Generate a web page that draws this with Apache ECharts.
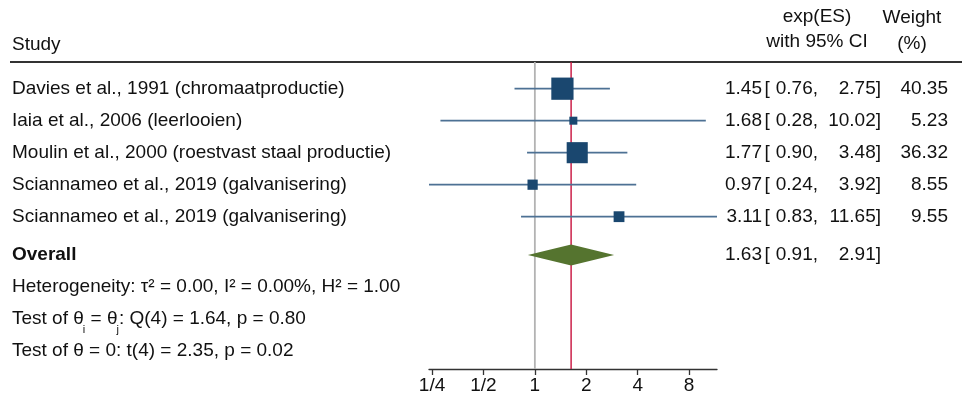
<!DOCTYPE html>
<html>
<head>
<meta charset="utf-8">
<script src="https://cdn.jsdelivr.net/npm/echarts@6/dist/echarts.min.js"></script>
<style>
  html, body { margin: 0; padding: 0; background: #fff; }
  #main { width: 962px; height: 398px; }
</style>
</head>
<body>
<div id="main"></div>
<script>
  // data
  const studies = [
    'Davies et al., 1991 (chromaatproductie)',
    'Iaia et al., 2006 (leerlooien)',
    'Moulin et al., 2000 (roestvast staal productie)',
    'Sciannameo et al., 2019 (galvanisering)',
    'Sciannameo et al., 2019 (galvanisering)'
  ]
  const es = [1.45, 1.68, 1.77, 0.97, 3.11]
  const lower = [0.76, 0.28, 0.90, 0.24, 0.83]
  const upper = [2.75, 10.02, 3.48, 3.92, 11.65]
  const weights = [40.35, 5.23, 36.32, 8.55, 9.55]
  const overallEs = 1.63
  const overallLower = 0.91
  const overallUpper = 2.91
  const tickValues = [0.25, 0.5, 1, 2, 4, 8]
  const tickLabels = ['1/4', '1/2', '1', '2', '4', '8']
  const statLines = [
    [{ t: 'Heterogeneity: τ² = 0.00, I² = 0.00%, H² = 1.00' }],
    [{ t: 'Test of θ' }, { t: 'i', sub: true }, { t: ' = θ' }, { t: 'j', sub: true }, { t: ': Q(4) = 1.64, p = 0.80' }],
    [{ t: 'Test of θ = 0: t(4) = 2.35, p = 0.02' }]
  ]

  const rows = [1, 2, 3, 4, 5]
  const overallRow = 6.2
  const statRows = [7.2, 8.2, 9.2]

  const FONT = '"Liberation Sans", Arial, sans-serif'
  const FS = 19
  const TXT = '#111'

  const log2 = v => Math.log2(v)
  const ticks = tickValues.map(log2)

  // reference lines: no effect (gray) and overall effect (red)
  const refLineStyles = [
    { stroke: '#b3b3b3', lineWidth: 1.8 },
    { stroke: '#c8103c', lineWidth: 1.4 }
  ]

  const chart = echarts.init(document.getElementById('main'))

  chart.setOption({
    animation: false,
    grid: { left: 429, top: 62, width: 288, height: 307 },
    xAxis: {
      type: 'value',
      min: log2(Math.min(...lower)),
      max: log2(Math.max(...upper)),
      splitLine: { show: false },
      axisLine: { show: true, lineStyle: { color: '#333', width: 1.3 } },
      axisTick: { show: true, customValues: ticks, length: 6, lineStyle: { color: '#333', width: 1.3 } },
      axisLabel: {
        customValues: ticks,
        margin: 7,
        color: TXT,
        fontFamily: FONT,
        fontSize: FS,
        formatter: v => {
          const i = ticks.findIndex(t => Math.abs(t - v) < 1e-6)
          return i >= 0 ? tickLabels[i] : ''
        }
      }
    },
    yAxis: { type: 'value', inverse: true, min: 0.166, max: 9.76, show: false },
    series: [
      {
        type: 'custom',
        z: 1,
        clip: false,
        encode: { x: 0 },
        data: [[0], [log2(overallEs)]],
        renderItem: (params, api) => {
          const x = api.coord([api.value(0), 1])[0]
          const cs = params.coordSys
          return {
            type: 'line',
            shape: { x1: x, y1: cs.y, x2: x, y2: cs.y + cs.height },
            style: refLineStyles[params.dataIndex]
          }
        }
      },
      {
        // study CIs and weighted boxes
        type: 'custom',
        z: 3,
        clip: false,
        encode: { x: [0, 1, 2], y: 3 },
        data: es.map((v, i) => [log2(lower[i]), log2(upper[i]), log2(v), rows[i], weights[i]]),
        renderItem: (params, api) => {
          const a = api.coord([api.value(0), api.value(3)])
          const b = api.coord([api.value(1), api.value(3)])
          const c = api.coord([api.value(2), api.value(3)])
          const s = 3.5 * Math.sqrt(api.value(4))
          return {
            type: 'group',
            children: [
              { type: 'line', shape: { x1: a[0], y1: a[1], x2: b[0], y2: b[1] }, style: { stroke: '#4d7194', lineWidth: 1.7 } },
              { type: 'rect', shape: { x: c[0] - s / 2, y: c[1] - s / 2, width: s, height: s }, style: { fill: '#1a476f' } }
            ]
          }
        }
      },
      {
        // overall diamond
        type: 'custom',
        z: 3,
        clip: false,
        encode: { x: [0, 1, 2], y: 3 },
        data: [[log2(overallLower), log2(overallUpper), log2(overallEs), overallRow]],
        renderItem: (params, api) => {
          const a = api.coord([api.value(0), api.value(3)])
          const b = api.coord([api.value(1), api.value(3)])
          const c = api.coord([api.value(2), api.value(3)])
          const h = 10.5
          return {
            type: 'polygon',
            shape: { points: [[a[0], a[1]], [c[0], c[1] - h], [b[0], b[1]], [c[0], c[1] + h]] },
            style: { fill: '#55742f' }
          }
        }
      }
    ]
  })

  // text columns
  const ctx = document.createElement('canvas').getContext('2d')
  const textWidth = (s, size) => { ctx.font = size + 'px ' + FONT; return ctx.measureText(s).width }
  const rowY = r => chart.convertToPixel({ yAxisIndex: 0 }, r)

  const txt = (x, y, s, align, extra) => ({
    type: 'text',
    x: x,
    y: y,
    silent: true,
    style: Object.assign({
      text: s, fill: TXT, font: FS + 'px ' + FONT, textAlign: align || 'left', textVerticalAlign: 'middle'
    }, extra || {})
  })

  const ciCols = (y, v, lo, hi) => [
    txt(762, y, v.toFixed(2), 'right'),
    txt(764.5, y, '[', 'left'),
    txt(818, y, lo.toFixed(2) + ',', 'right'),
    txt(881, y, hi.toFixed(2) + ']', 'right')
  ]

  const g = [
    { type: 'line', silent: true, shape: { x1: 10, y1: 62, x2: 962, y2: 62 }, style: { stroke: '#333', lineWidth: 2 } },
    txt(12, 45, 'Study'),
    txt(817, 17, 'exp(ES)', 'center'),
    txt(817, 42, 'with 95% CI', 'center'),
    txt(912, 18, 'Weight', 'center'),
    txt(912, 44, '(%)', 'center')
  ]

  rows.forEach((r, i) => {
    const y = rowY(r)
    g.push(txt(12, y, studies[i]))
    g.push(...ciCols(y, es[i], lower[i], upper[i]))
    g.push(txt(948, y, weights[i].toFixed(2), 'right'))
  })

  const oy = rowY(overallRow)
  g.push(txt(12, oy, 'Overall', 'left', { font: 'bold ' + FS + 'px ' + FONT }))
  g.push(...ciCols(oy, overallEs, overallLower, overallUpper))

  statLines.forEach((parts, k) => {
    const y = rowY(statRows[k])
    let x = 12
    parts.forEach(p => {
      if (p.sub) {
        g.push(txt(x - 1, y + 11, p.t, 'left', { font: '11px ' + FONT }))
        x += textWidth(p.t, 11) - 1
      } else {
        g.push(txt(x, y, p.t))
        x += textWidth(p.t, FS)
      }
    })
  })

  chart.setOption({ graphic: g })
</script>
</body>
</html>
